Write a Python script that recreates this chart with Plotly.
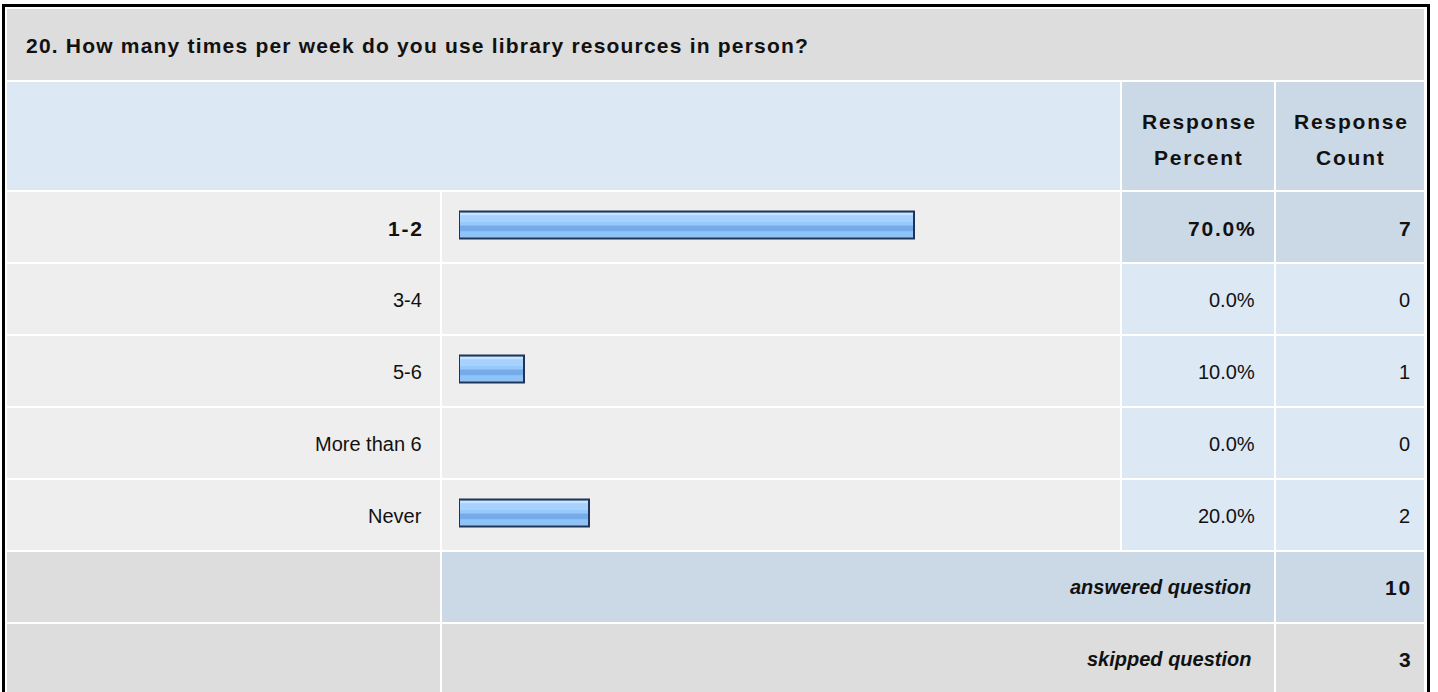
import plotly.graph_objects as go

# ==================== DADOS ====================
titulo = "20. How many times per week do you use library resources in person?"
categorias = ["1-2", "3-4", "5-6", "More than 6", "Never"]
percentuais = [70.0, 0.0, 10.0, 0.0, 20.0]
contagens = [7, 0, 1, 0, 2]
cab_percent = ["Response", "Percent"]
cab_count = ["Response", "Count"]
respondidas = 10
puladas = 3

# ==================== LAYOUT (pixels) ====================
W, H = 1438, 692
cols = [(7, 440), (442, 1120), (1122, 1274), (1276, 1424)]
row_h = 72
y_title = (9, 80)
y_head = (82, 190)
y_rows0 = 192
n = len(categorias)
y_ans = (y_rows0 + n * row_h, y_rows0 + n * row_h + 70)
y_skip = (y_ans[1] + 2, H + 10)

GRAY = "#dddddd"
ROWBG = "#eeeeee"
LBLUE = "#dde8f5"
DBLUE = "#cbd8e6"
FONT = "Liberation Sans, Arial, sans-serif"


def bold(t, ls=1.8):
    return f'<b><span style="letter-spacing:{ls}px">{t}</span></b>'


shapes = []


def cell(x0, x1, y0, y1, color):
    shapes.append(dict(type="rect", xref="x", yref="y", x0=x0, x1=x1, y0=y0, y1=y1,
                       fillcolor=color, line=dict(width=0), layer="below"))


top = max(range(n), key=lambda i: contagens[i])

cell(cols[0][0], cols[3][1], *y_title, GRAY)
cell(cols[0][0], cols[1][1], *y_head, LBLUE)
cell(*cols[2], *y_head, DBLUE)
cell(*cols[3], *y_head, DBLUE)
for i in range(n):
    y0 = y_rows0 + i * row_h
    y1 = y0 + row_h - 2
    cell(*cols[0], y0, y1, ROWBG)
    cell(*cols[1], y0, y1, ROWBG)
    c = DBLUE if i == top else LBLUE
    cell(*cols[2], y0, y1, c)
    cell(*cols[3], y0, y1, c)
cell(*cols[0], *y_ans, GRAY)
cell(cols[1][0], cols[2][1], *y_ans, DBLUE)
cell(*cols[3], *y_ans, DBLUE)
cell(*cols[0], *y_skip, GRAY)
cell(cols[1][0], cols[2][1], *y_skip, GRAY)
cell(*cols[3], *y_skip, GRAY)
# moldura preta
shapes.append(dict(type="rect", xref="x", yref="y", x0=3.5, x1=1428.5, y0=5.5, y1=H + 20,
                   line=dict(color="black", width=3), fillcolor="rgba(0,0,0,0)", layer="above"))

annotations = []


def txt(x, y, t, anchor="right", size=20, color="#111111"):
    annotations.append(dict(x=x, y=y, xref="x", yref="y", text=t, showarrow=False,
                            xanchor=anchor, yanchor="middle",
                            font=dict(family=FONT, size=size, color=color)))


txt(24, 45, bold(titulo, 1.2), anchor="left", size=21)
pc = (cols[2][0] + cols[2][1]) / 2 + 1
cc = (cols[3][0] + cols[3][1]) / 2 + 1
txt(pc, 121, bold(cab_percent[0]), anchor="center", size=21)
txt(pc, 157, bold(cab_percent[1]), anchor="center", size=21)
txt(cc, 121, bold(cab_count[0]), anchor="center", size=21)
txt(cc, 157, bold(cab_count[1]), anchor="center", size=21)
for i in range(n):
    yc = y_rows0 + i * row_h + 36
    if i == top:
        txt(426, yc, bold(categorias[i]), size=21)
        txt(1259, yc, bold(f"{percentuais[i]:.1f}%"), size=21)
        txt(1414, yc, bold(str(contagens[i])), size=21)
    else:
        txt(424, yc, categorias[i])
        txt(1257, yc, f"{percentuais[i]:.1f}%")
        txt(1412, yc, str(contagens[i]))
ya = (y_ans[0] + y_ans[1]) / 2
txt(1253, ya, "<b><i>answered question</i></b>")
txt(1414, ya, bold(str(respondidas)), size=21)
ys = (y_skip[0] + 694) / 2
txt(1253, ys, "<b><i>skipped question</i></b>")
txt(1414, ys, bold(str(puladas)), size=21)

# ==================== BARRAS ====================
unit = row_h
center_off = 227 - (y_rows0 + 36)


def off(px):
    return (px + center_off) / unit


fig = go.Figure()
bar_common = dict(y=categorias, x=percentuais, orientation="h", xaxis="x2", yaxis="y2",
                  hoverinfo="skip", showlegend=False)
# corpo
fig.add_trace(go.Bar(**bar_common, marker=dict(color="#98c9fa", line=dict(width=0)),
                     offset=off(-14.5), width=27 / unit))
# faixas do degradê
for p0, p1, col in [(-13.5, -10.5, "#c8e4ff"), (-10.5, -4, "#a7d2fe"), (-0.5, 5.5, "#74abe8"),
                    (5.5, 11.5, "#8fc2f6")]:
    fig.add_trace(go.Bar(**bar_common, marker=dict(color=col, line=dict(width=0)),
                         offset=off(p0), width=(p1 - p0) / unit))
# contorno (sem linha para valores zero)
fig.add_trace(go.Bar(**bar_common, marker=dict(color="rgba(0,0,0,0)",
                                                line=dict(color="#1e3559",
                                                          width=[2 if v > 0 else 0 for v in percentuais])),
                     offset=off(-14.5), width=27 / unit))

# trace invisível para ancorar o eixo de pixels
fig.add_trace(go.Scatter(x=[0, W], y=[0, H], mode="markers", marker=dict(opacity=0),
                         hoverinfo="skip", showlegend=False))

bar_x0, full = 459, 650
y_top, y_bot = y_rows0 - 1, y_rows0 + n * row_h - 1
fig.update_layout(
    width=W, height=H,
    margin=dict(l=0, r=0, t=0, b=0),
    paper_bgcolor="white", plot_bgcolor="rgba(0,0,0,0)",
    barmode="overlay",
    xaxis=dict(range=[0, W], domain=[0, 1], visible=False, fixedrange=True),
    yaxis=dict(range=[H, 0], domain=[0, 1], visible=False, fixedrange=True),
    xaxis2=dict(range=[0, 100], domain=[bar_x0 / W, (bar_x0 + full) / W], visible=False,
                anchor="y2", fixedrange=True),
    yaxis2=dict(domain=[1 - y_bot / H, 1 - y_top / H], visible=False, anchor="x2",
                autorange="reversed", type="category", fixedrange=True),
    shapes=shapes,
    annotations=annotations,
)
fig.write_html("out.html", config={"displayModeBar": False},
               post_script="document.body.style.margin='0';document.body.style.overflow='hidden';")
